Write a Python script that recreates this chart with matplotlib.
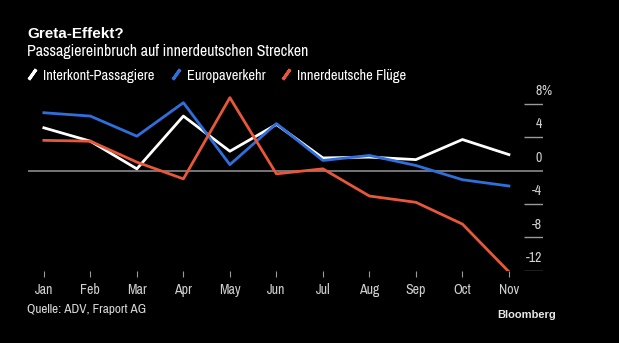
import matplotlib
matplotlib.use("Agg")
import matplotlib.pyplot as plt
from matplotlib.lines import Line2D

plt.rcParams["font.family"] = ["Archivo Narrow", "DejaVu Sans"]

months = ["Jan", "Feb", "Mar", "Apr", "May", "Jun", "Jul", "Aug", "Sep", "Oct", "Nov"]
interkont = [5.1, 3.5, 0.2, 6.5, 2.3, 5.5, 1.5, 1.6, 1.3, 3.7, 1.9]
europa = [6.9, 6.5, 4.1, 8.1, 0.7, 5.6, 1.2, 1.8, 0.6, -1.1, -1.85]
inland = [3.6, 3.5, 1.0, -1.0, 8.7, -0.4, 0.2, -3.05, -3.8, -6.4, -12.1]
yticks = [8, 4, 0, -4, -8, -12]

series = [
    ("Interkont-Passagiere", interkont, "#ffffff"),
    ("Europaverkehr", europa, "#2f6fdc"),
    ("Innerdeutsche Flüge", inland, "#e9573a"),
]

fig = plt.figure(figsize=(6.19, 3.43), dpi=100, facecolor="black")
ax = fig.add_axes([0.045, 0.21, 0.832, 0.537], facecolor="black")

x = list(range(len(months)))
ax.axhline(0, color="#8a8a8a", lw=1.2, zorder=1)
for label, vals, color in series:
    ax.plot(x, vals, color=color, lw=2.0, zorder=3)

ax.set_xlim(-0.344, 10.73)
ax.set_ylim(-12, 10)

# short stubs at the right for each y tick
ax.hlines([v for v in yticks if v != 0], 0.963, 1.0, transform=ax.get_yaxis_transform(),
          color="#9a9a9a", lw=1.0)
for v in yticks:
    ax.annotate(f"{v}", xy=(0.998, v), xycoords=ax.get_yaxis_transform(),
                xytext=(0, 4), textcoords="offset points", ha="right", va="bottom",
                color="#d0d0d0", fontsize=10)
ax.annotate("%", xy=(0.998, 8), xycoords=ax.get_yaxis_transform(),
            xytext=(0, 4), textcoords="offset points", ha="left", va="bottom",
            color="#d0d0d0", fontsize=10)

ax.set_yticks([])
ax.set_xticks(x)
ax.set_xticklabels(months)
ax.tick_params(axis="x", colors="#9a9a9a", labelcolor="#d0d0d0", length=4, width=0.8,
               labelsize=10, pad=5)
for s in ax.spines.values():
    s.set_visible(False)

fig.text(0.044, 0.889, "Greta-Effekt?", color="white", fontsize=11, fontweight="bold",
         va="baseline", family=["Liberation Sans", "DejaVu Sans"])
fig.text(0.044, 0.837, "Passagiereinbruch auf innerdeutschen Strecken", color="white",
         fontsize=11.5, va="baseline")

handles = [Line2D([], [], color=c, marker=(2, 2, -35), linestyle="None", markersize=9,
                  markeredgewidth=2.2) for _, _, c in series]
fig.legend(handles, [s[0] for s in series], loc="upper left", bbox_to_anchor=(0.032, 0.817),
           ncol=3, frameon=False, fontsize=10.5, labelcolor="white", handlelength=0.9,
           handletextpad=0.3, columnspacing=1.0, borderaxespad=0)

fig.text(0.044, 0.088, "Quelle: ADV, Fraport AG", color="#d8d8d8", fontsize=9.5)
fig.text(0.898, 0.072, "Bloomberg", color="#e8e8e8", fontsize=8, fontweight="bold",
         ha="right", family=["Liberation Sans", "DejaVu Sans"])

fig.savefig("out.png", dpi=100, facecolor="black")
